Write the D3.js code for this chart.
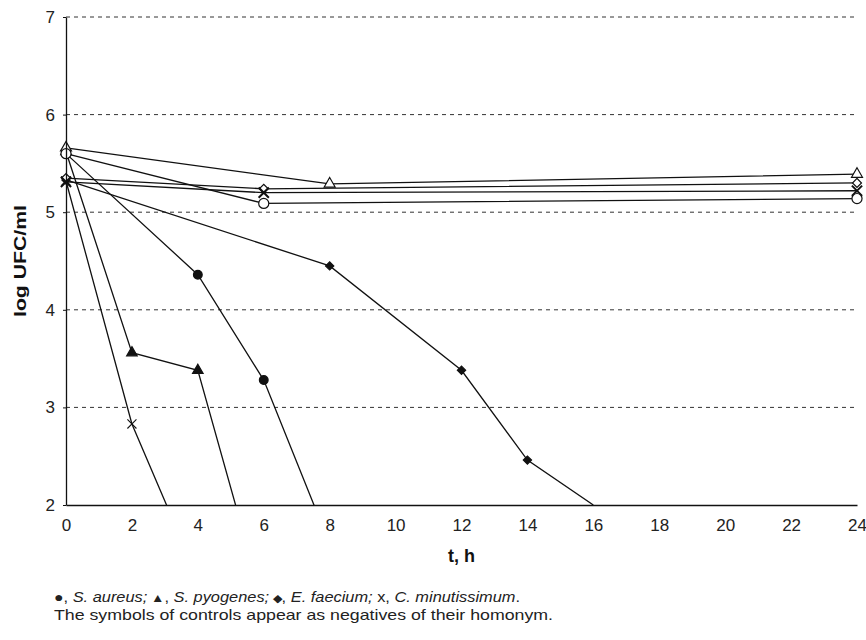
<!DOCTYPE html>
<html>
<head>
<meta charset="utf-8">
<script src="https://cdn.jsdelivr.net/npm/d3@7"></script>
<style>
  body { margin: 0; background: #fff; }
  svg { font-family: "Liberation Sans", Arial, sans-serif; }
</style>
</head>
<body>
<div id="chart"></div>
<script>
// values; points below 2 only set where the line leaves the plot
const aureus = [[0, 5.60], [4, 4.36], [6, 3.28], [8, 1.60]];
const pyogenes = [[0, 5.62], [2, 3.56], [4, 3.38], [6, 0.97]];
const faecium = [[0, 5.33], [8, 4.45], [12, 3.38], [14, 2.46], [16, 2.0]];
const minutissimum = [[0, 5.32], [2, 2.83], [4, 1.25]];

const ctrlAureus = [[0, 5.60], [6, 5.09], [24, 5.14]];
const ctrlPyogenes = [[0, 5.66], [8, 5.29], [24, 5.39]];
const ctrlFaecium = [[0, 5.35], [6, 5.24], [24, 5.30]];
const ctrlMinutissimum = [[0, 5.31], [6, 5.20], [24, 5.22]];

const xTicks = d3.range(0, 25, 2);
const yTicks = [2, 3, 4, 5, 6, 7];

const width = 866, height = 640;
const margin = {left: 66, right: 9, top: 17, bottom: 135};

const x = d3.scaleLinear().domain([0, 24]).range([margin.left, width - margin.right]);
const y = d3.scaleLinear().domain([2, 7]).range([height - margin.bottom, margin.top]);

const svg = d3.select("#chart").append("svg")
    .attr("width", width)
    .attr("height", height);

// dashed gridlines
svg.append("g")
    .selectAll("line")
    .data(yTicks.filter(d => d > 2))
    .join("line")
    .attr("x1", x(0))
    .attr("x2", x(24))
    .attr("y1", d => y(d))
    .attr("y2", d => y(d))
    .attr("stroke", "#333")
    .attr("stroke-width", 1)
    .attr("stroke-dasharray", "4,4");

svg.append("defs").append("clipPath").attr("id", "plot")
    .append("rect")
    .attr("x", x(0) - 12)
    .attr("y", y(7) - 10)
    .attr("width", x(24) - x(0) + 24)
    .attr("height", y(2) - y(7) + 10);

const line = d3.line().x(d => x(d[0])).y(d => y(d[1]));

const series = [
    {data: ctrlPyogenes, shape: "triangle", open: true},
    {data: ctrlFaecium, shape: "diamond", open: true},
    {data: ctrlMinutissimum, shape: "cross", open: true},
    {data: ctrlAureus, shape: "circle", open: true},
    {data: aureus, shape: "circle", open: false},
    {data: pyogenes, shape: "triangle", open: false},
    {data: faecium, shape: "diamond", open: false},
    {data: minutissimum, shape: "cross", open: false}
];

const plot = svg.append("g").attr("clip-path", "url(#plot)");

plot.selectAll("path.series")
    .data(series)
    .join("path")
    .attr("class", "series")
    .attr("d", d => line(d.data))
    .attr("fill", "none")
    .attr("stroke", "#111")
    .attr("stroke-width", 1.3);

function marker(shape, open) {
    if (shape === "circle") return d3.symbol(d3.symbolCircle, open ? 80 : 60)();
    if (shape === "triangle") return d3.symbol(d3.symbolTriangle, open ? 52 : 48)();
    if (shape === "diamond") return d3.symbol(d3.symbolSquare, open ? 40 : 34)();
    return d3.symbol(d3.symbolX, open ? 70 : 55)();
}

// filled markers first, then controls (open) over them
const order = series.slice(4).concat(series.slice(0, 4));
order.forEach(s => {
    plot.append("g")
        .selectAll("path")
        .data(s.data.filter(d => d[1] > 2))
        .join("path")
        .attr("transform", d => `translate(${x(d[0])},${y(d[1])})` + (s.shape === "diamond" ? " rotate(45)" : ""))
        .attr("d", marker(s.shape, s.open))
        .attr("fill", s.shape === "cross" ? "none" : (s.open ? "#fff" : "#111"))
        .attr("stroke", "#111")
        .attr("stroke-width", s.shape === "cross" ? (s.open ? 2 : 1.1) : 1.2);
});

// axes
const xAxis = svg.append("g")
    .attr("transform", `translate(0,${y(2)})`)
    .call(d3.axisBottom(x).tickValues(xTicks).tickSize(0).tickPadding(14));
xAxis.select(".domain").attr("stroke", "#111").attr("stroke-width", 1.3);
xAxis.selectAll("text").attr("font-size", 17).attr("fill", "#222")
    .attr("font-family", "Liberation Sans, Arial, sans-serif");

const yAxis = svg.append("g")
    .attr("transform", `translate(${x(0)},0)`)
    .call(d3.axisLeft(y).tickValues(yTicks).tickFormat(d3.format("d")).tickSize(3).tickSizeOuter(0).tickPadding(8));
yAxis.select(".domain").attr("stroke", "#111").attr("stroke-width", 1.3);
yAxis.selectAll(".tick line").attr("stroke", "#111");
yAxis.selectAll("text").attr("font-size", 17).attr("fill", "#222")
    .attr("font-family", "Liberation Sans, Arial, sans-serif");

svg.append("text")
    .attr("x", (x(0) + x(24)) / 2)
    .attr("y", 562)
    .attr("text-anchor", "middle")
    .attr("font-size", 18)
    .attr("font-weight", "bold")
    .attr("fill", "#111")
    .text("t, h");

svg.append("text")
    .attr("transform", `translate(26,${(y(2) + y(7)) / 2}) rotate(-90)`)
    .attr("text-anchor", "middle")
    .attr("font-size", 17)
    .attr("font-weight", "bold")
    .attr("fill", "#111")
    .attr("textLength", 112)
    .attr("lengthAdjust", "spacingAndGlyphs")
    .text("log UFC/ml");

// caption
const cap = svg.append("text")
    .attr("x", 54)
    .attr("y", 602)
    .attr("font-size", 14.5)
    .attr("fill", "#222")
    .attr("textLength", 466)
    .attr("lengthAdjust", "spacingAndGlyphs");
cap.append("tspan").attr("font-size", 14).text("\u25CF");
cap.append("tspan").text(", ");
cap.append("tspan").attr("font-style", "italic").text("S. aureus;");
cap.append("tspan").attr("font-size", 12).text("  \u25B2");
cap.append("tspan").text(", ");
cap.append("tspan").attr("font-style", "italic").text("S. pyogenes;");
cap.append("tspan").attr("font-size", 11).text(" \u25C6");
cap.append("tspan").text(", ");
cap.append("tspan").attr("font-style", "italic").text("E. faecium;");
cap.append("tspan").text(" x, ");
cap.append("tspan").attr("font-style", "italic").text("C. minutissimum");
cap.append("tspan").text(".");

svg.append("text")
    .attr("x", 54)
    .attr("y", 620)
    .attr("font-size", 14.5)
    .attr("fill", "#222")
    .attr("textLength", 499)
    .attr("lengthAdjust", "spacingAndGlyphs")
    .text("The symbols of controls appear as negatives of their homonym.");
</script>
</body>
</html>
